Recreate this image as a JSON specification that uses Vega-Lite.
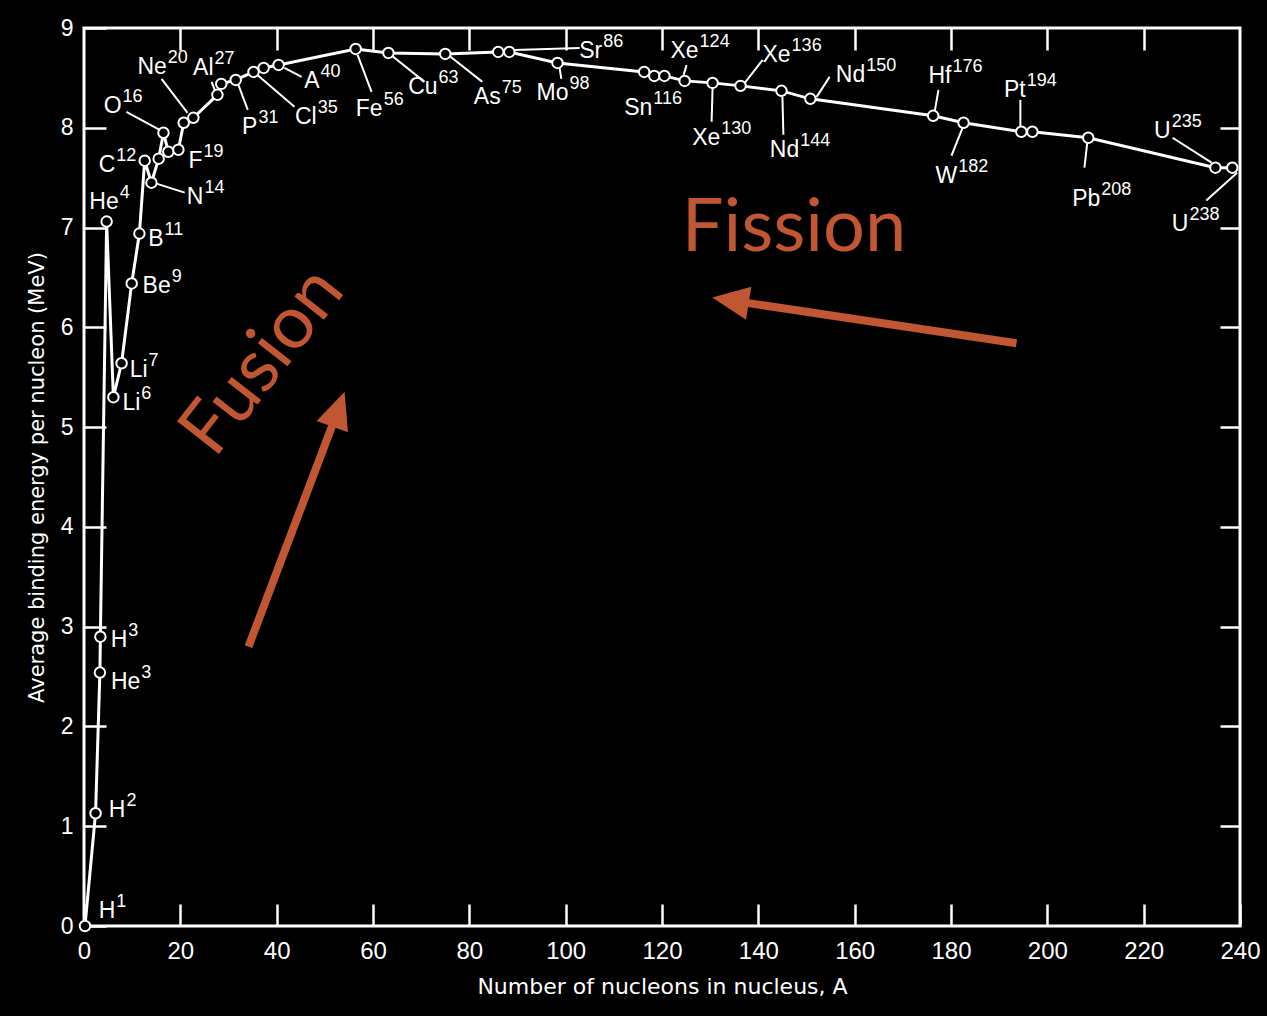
{
  "$schema": "https://vega.github.io/schema/vega-lite/v6.json",
  "width": 1156,
  "height": 898,
  "autosize": {"type": "none"},
  "padding": {"left": 84, "top": 28, "right": 27, "bottom": 90},
  "background": "black",
  "config": {
    "view": {"stroke": "white", "strokeWidth": 3},
    "axis": {
      "grid": false,
      "domain": false,
      "labelColor": "white",
      "tickColor": "white",
      "titleColor": "white",
      "labelFont": "Liberation Sans",
      "titleFont": "DejaVu Sans",
      "titleFontWeight": "normal"
    }
  },
  "datasets": {
    "nuclides": [
      {"A": 0.2, "E": 0, "sym": "H", "mass": "1", "lx": 6.5, "ly": 0.08},
      {"A": 2.4, "E": 1.13, "sym": "H", "mass": "2", "lx": 8.6, "ly": 1.09},
      {"A": 3.3, "E": 2.54, "sym": "He", "mass": "3", "lx": 11.7, "ly": 2.38},
      {"A": 3.4, "E": 2.90, "sym": "H", "mass": "3", "lx": 9.0, "ly": 2.80},
      {"A": 4.7, "E": 7.06, "sym": "He", "mass": "4", "lx": 7.2, "ly": 7.19},
      {"A": 6.1, "E": 5.30, "sym": "Li", "mass": "6", "lx": 11.7, "ly": 5.17},
      {"A": 7.8, "E": 5.64, "sym": "Li", "mass": "7", "lx": 13.2, "ly": 5.50},
      {"A": 9.9, "E": 6.44, "sym": "Be", "mass": "9", "lx": 18.0, "ly": 6.34},
      {"A": 11.5, "E": 6.94, "sym": "B", "mass": "11", "lx": 16.5, "ly": 6.82},
      {"A": 12.6, "E": 7.67, "sym": "C", "mass": "12", "lx": 6.5, "ly": 7.56},
      {"A": 14.0, "E": 7.45, "sym": "N", "mass": "14", "lx": 24.8, "ly": 7.24},
      {"A": 15.5, "E": 7.69},
      {"A": 16.5, "E": 7.95, "sym": "O", "mass": "16", "lx": 7.8, "ly": 8.15},
      {"A": 17.5, "E": 7.76},
      {"A": 19.6, "E": 7.78, "sym": "F", "mass": "19", "lx": 24.6, "ly": 7.60},
      {"A": 20.7, "E": 8.05, "sym": "Ne", "mass": "20", "lx": 17.2, "ly": 8.54},
      {"A": 22.7, "E": 8.10},
      {"A": 27.7, "E": 8.33, "sym": "Al", "mass": "27", "lx": 26.9, "ly": 8.53},
      {"A": 28.5, "E": 8.44},
      {"A": 31.5, "E": 8.48, "sym": "P", "mass": "31", "lx": 36.0, "ly": 7.94},
      {"A": 35.2, "E": 8.56, "sym": "Cl", "mass": "35", "lx": 48.3, "ly": 8.04},
      {"A": 37.3, "E": 8.60},
      {"A": 40.4, "E": 8.63, "sym": "A", "mass": "40", "lx": 48.9, "ly": 8.40},
      {"A": 56.4, "E": 8.79, "sym": "Fe", "mass": "56", "lx": 62.0, "ly": 8.12},
      {"A": 63.2, "E": 8.75, "sym": "Cu", "mass": "63", "lx": 73.4, "ly": 8.34},
      {"A": 75.0, "E": 8.74, "sym": "As", "mass": "75", "lx": 86.5, "ly": 8.24},
      {"A": 86.0, "E": 8.76, "sym": "Sr", "mass": "86", "lx": 107.6, "ly": 8.70},
      {"A": 88.3, "E": 8.76},
      {"A": 98.3, "E": 8.65, "sym": "Mo", "mass": "98", "lx": 100.6, "ly": 8.28},
      {"A": 116.3, "E": 8.56, "sym": "Sn", "mass": "116", "lx": 118.0, "ly": 8.13},
      {"A": 118.4, "E": 8.52},
      {"A": 120.5, "E": 8.52},
      {"A": 124.7, "E": 8.47, "sym": "Xe", "mass": "124", "lx": 127.6, "ly": 8.70},
      {"A": 130.5, "E": 8.45, "sym": "Xe", "mass": "130", "lx": 132.1, "ly": 7.83},
      {"A": 136.3, "E": 8.42, "sym": "Xe", "mass": "136", "lx": 146.7, "ly": 8.66},
      {"A": 144.8, "E": 8.37, "sym": "Nd", "mass": "144", "lx": 148.5, "ly": 7.71},
      {"A": 150.8, "E": 8.29, "sym": "Nd", "mass": "150", "lx": 162.2, "ly": 8.46},
      {"A": 176.3, "E": 8.12, "sym": "Hf", "mass": "176", "lx": 180.1, "ly": 8.45},
      {"A": 182.6, "E": 8.05, "sym": "W", "mass": "182", "lx": 181.3, "ly": 7.45},
      {"A": 194.6, "E": 7.96, "sym": "Pt", "mass": "194", "lx": 195.5, "ly": 8.31},
      {"A": 196.9, "E": 7.96},
      {"A": 208.5, "E": 7.90, "sym": "Pb", "mass": "208", "lx": 211.0, "ly": 7.22},
      {"A": 234.9, "E": 7.60, "sym": "U", "mass": "235", "lx": 225.6, "ly": 7.90},
      {"A": 238.4, "E": 7.60, "sym": "U", "mass": "238", "lx": 229.3, "ly": 6.97}
    ],
    "leaders": [
      {"x1": 16.1, "y1": 8.49, "x2": 21.5, "y2": 8.15},
      {"x1": 8.8, "y1": 8.16, "x2": 15.7, "y2": 7.98},
      {"x1": 14.4, "y1": 7.45, "x2": 20.9, "y2": 7.35},
      {"x1": 26.5, "y1": 8.46, "x2": 27.3, "y2": 8.36},
      {"x1": 31.9, "y1": 8.45, "x2": 34.0, "y2": 8.18},
      {"x1": 36.0, "y1": 8.53, "x2": 43.7, "y2": 8.21},
      {"x1": 41.6, "y1": 8.60, "x2": 45.2, "y2": 8.51},
      {"x1": 56.8, "y1": 8.73, "x2": 59.7, "y2": 8.36},
      {"x1": 64.0, "y1": 8.72, "x2": 70.7, "y2": 8.46},
      {"x1": 75.9, "y1": 8.72, "x2": 82.7, "y2": 8.46},
      {"x1": 89.4, "y1": 8.78, "x2": 102.9, "y2": 8.80},
      {"x1": 98.7, "y1": 8.61, "x2": 99.1, "y2": 8.49},
      {"x1": 124.5, "y1": 8.53, "x2": 125.1, "y2": 8.63},
      {"x1": 130.5, "y1": 8.40, "x2": 130.3, "y2": 8.06},
      {"x1": 136.7, "y1": 8.42, "x2": 140.9, "y2": 8.68},
      {"x1": 145.0, "y1": 8.31, "x2": 145.2, "y2": 7.93},
      {"x1": 152.1, "y1": 8.31, "x2": 154.8, "y2": 8.51},
      {"x1": 176.6, "y1": 8.16, "x2": 177.4, "y2": 8.38},
      {"x1": 182.4, "y1": 8.00, "x2": 180.1, "y2": 7.72},
      {"x1": 194.4, "y1": 8.00, "x2": 194.4, "y2": 8.28},
      {"x1": 208.5, "y1": 7.94, "x2": 207.7, "y2": 7.60},
      {"x1": 226.0, "y1": 7.90, "x2": 234.1, "y2": 7.65},
      {"x1": 233.0, "y1": 7.27, "x2": 239.4, "y2": 7.55}
    ],
    "arrows": [
      {"name": "Fission", "x1": 193.6, "y1": 5.84, "x2": 134.2, "y2": 6.27, "heading": 279},
      {"name": "Fusion", "x1": 34.15, "y1": 2.80, "x2": 52.83, "y2": 5.18, "heading": 19.5}
    ]
  },
  "layer": [
    {
      "data": {"name": "nuclides"},
      "mark": {"type": "line", "color": "white", "strokeWidth": 3},
      "encoding": {
        "x": {
          "field": "A", "type": "quantitative",
          "scale": {"domain": [0, 240], "nice": false, "zero": false},
          "axis": {
            "orient": "bottom",
            "values": [0, 20, 40, 60, 80, 100, 120, 140, 160, 180, 200, 220, 240],
            "tickSize": -22, "tickWidth": 2.5,
            "labelFontSize": 24, "labelPadding": 35, "labelFlush": false,
            "title": "Number of nucleons in nucleus, A",
            "titleFontSize": 22, "titlePadding": 13
          }
        },
        "y": {
          "field": "E", "type": "quantitative",
          "scale": {"domain": [0, 9], "nice": false, "zero": false},
          "axis": {
            "orient": "left",
            "values": [0, 1, 2, 3, 4, 5, 6, 7, 8, 9],
            "tickSize": -22, "tickWidth": 2.5,
            "labelFontSize": 23, "labelPadding": 33, "labelFlush": false,
            "title": "Average binding energy per nucleon (MeV)",
            "titleFontSize": 21, "titlePadding": 13
          }
        }
      }
    },
    {
      "data": {"name": "leaders"},
      "mark": {"type": "rule", "color": "white", "strokeWidth": 2},
      "encoding": {
        "x": {"field": "x1", "type": "quantitative", "axis": null},
        "y": {"field": "y1", "type": "quantitative", "axis": null},
        "x2": {"field": "x2"},
        "y2": {"field": "y2"}
      }
    },
    {
      "data": {"name": "nuclides"},
      "mark": {"type": "point", "shape": "circle", "filled": true, "fill": "black", "stroke": "white", "strokeWidth": 2, "size": 110, "opacity": 1},
      "encoding": {
        "x": {
          "field": "A", "type": "quantitative",
          "axis": {
            "orient": "top",
            "values": [20, 40, 60, 80, 100, 120, 140, 160, 180, 200, 220],
            "labels": false, "tickSize": -22, "tickWidth": 2.5, "title": null
          }
        },
        "y": {
          "field": "E", "type": "quantitative",
          "axis": {
            "orient": "right",
            "values": [1, 2, 3, 4, 5, 6, 7, 8],
            "labels": false, "tickSize": -20, "tickWidth": 2.5, "title": null
          }
        }
      }
    },
    {
      "data": {"name": "nuclides"},
      "transform": [{"filter": "datum.sym != null"}],
      "mark": {"type": "text", "color": "white", "font": "Liberation Sans", "fontSize": 23, "align": "right", "baseline": "alphabetic"},
      "encoding": {
        "x": {"field": "lx", "type": "quantitative", "axis": null},
        "y": {"field": "ly", "type": "quantitative", "axis": null},
        "text": {"field": "sym"}
      }
    },
    {
      "data": {"name": "nuclides"},
      "transform": [{"filter": "datum.sym != null"}],
      "mark": {"type": "text", "color": "white", "font": "Liberation Sans", "fontSize": 18, "align": "left", "baseline": "alphabetic", "dx": 1, "dy": -11},
      "encoding": {
        "x": {"field": "lx", "type": "quantitative", "axis": null},
        "y": {"field": "ly", "type": "quantitative", "axis": null},
        "text": {"field": "mass"}
      }
    },
    {
      "data": {"name": "arrows"},
      "mark": {"type": "rule", "color": "#c15632", "strokeWidth": 8},
      "encoding": {
        "x": {"field": "x1", "type": "quantitative", "axis": null},
        "y": {"field": "y1", "type": "quantitative", "axis": null},
        "x2": {"field": "x2"},
        "y2": {"field": "y2"}
      }
    },
    {
      "data": {"name": "arrows"},
      "mark": {"type": "point", "shape": "M0,-1L0.9,1L-0.9,1Z", "filled": true, "color": "#c15632", "opacity": 1, "size": 1369, "strokeWidth": 0},
      "encoding": {
        "x": {"field": "x2", "type": "quantitative", "axis": null},
        "y": {"field": "y2", "type": "quantitative", "axis": null},
        "angle": {"field": "heading", "type": "quantitative", "scale": null}
      }
    },
    {
      "data": {"values": [{"word": "Fission", "A": 147.4, "E": 6.77}]},
      "mark": {"type": "text", "color": "#c15632", "font": "Lato", "fontSize": 74, "align": "center", "baseline": "alphabetic"},
      "encoding": {
        "x": {"field": "A", "type": "quantitative", "axis": null},
        "y": {"field": "E", "type": "quantitative", "axis": null},
        "text": {"field": "word"}
      }
    },
    {
      "data": {"values": [{"word": "Fusion", "A": 40.8, "E": 5.52}]},
      "mark": {"type": "text", "color": "#c15632", "font": "Lato", "fontSize": 74, "align": "center", "baseline": "alphabetic", "angle": -52},
      "encoding": {
        "x": {"field": "A", "type": "quantitative", "axis": null},
        "y": {"field": "E", "type": "quantitative", "axis": null},
        "text": {"field": "word"}
      }
    }
  ]
}
